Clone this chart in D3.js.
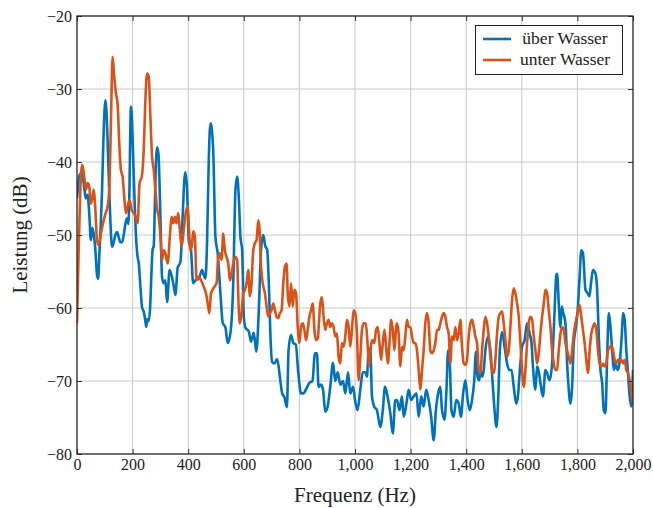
<!DOCTYPE html>
<html>
<head>
    <meta charset="utf-8">
    <title>Leistung über Frequenz</title>
    <script type="text/javascript" src="https://d3js.org/d3.v7.min.js"></script>
    <style>
        body { margin: 0; background: #fff; }
        svg text { font-family: "Liberation Serif", "Times New Roman", serif; fill: #222; }
    </style>
</head>
<body>
    <div id="div-svg"></div>

    <script type="text/javascript">
        // values
        let seriesNames = ["über Wasser", "unter Wasser"];
        let seriesColors = ["#0072bd", "#d95319"];

        let xTicks = [0, 200, 400, 600, 800, 1000, 1200, 1400, 1600, 1800, 2000];
        let yTicks = [-80, -70, -60, -50, -40, -30, -20];

        let freqAbove = [0, 8, 14, 20, 26, 32, 38, 44, 50, 55, 60, 66, 72, 76, 80, 85, 90, 95, 99, 102, 106, 110, 115, 120, 126, 132, 138, 144, 150, 156, 162, 168, 174, 180, 185, 189, 192, 194, 197, 201, 206, 212, 218, 222, 228, 234, 240, 245, 249, 253, 258, 263, 268, 272, 276, 280, 284, 288, 293, 300, 306, 312, 318, 324, 333, 342, 348, 354, 362, 372, 381, 386, 390, 396, 402, 410, 418, 426, 438, 450, 456, 462, 468, 474, 478, 482, 486, 490, 498, 506, 516, 524, 534, 542, 552, 562, 570, 576, 582, 588, 594, 600, 606, 618, 626, 636, 645, 654, 662, 670, 677, 684, 690, 696, 702, 710, 720, 730, 738, 746, 755, 761, 770, 778, 787, 796, 806, 815, 823, 835, 847, 856, 863, 869, 878, 885, 893, 901, 911, 921, 929, 938, 947, 957, 965, 975, 983, 993, 1000, 1009, 1019, 1028, 1037, 1043, 1049, 1055, 1061, 1069, 1079, 1091, 1100, 1108, 1117, 1127, 1136, 1145, 1151, 1160, 1169, 1175, 1185, 1193, 1202, 1211, 1221, 1229, 1238, 1247, 1256, 1265, 1274, 1283, 1291, 1299, 1307, 1313, 1322, 1329, 1335, 1341, 1347, 1355, 1364, 1373, 1381, 1389, 1397, 1405, 1413, 1421, 1429, 1435, 1441, 1447, 1451, 1457, 1463, 1469, 1478, 1487, 1496, 1502, 1509, 1515, 1521, 1529, 1538, 1547, 1555, 1563, 1571, 1580, 1586, 1593, 1601, 1610, 1619, 1628, 1635, 1641, 1649, 1655, 1661, 1669, 1676, 1685, 1691, 1700, 1709, 1718, 1724, 1727, 1733, 1739, 1744, 1749, 1753, 1758, 1763, 1769, 1775, 1781, 1787, 1793, 1801, 1808, 1814, 1820, 1829, 1837, 1843, 1849, 1856, 1865, 1871, 1877, 1883, 1889, 1895, 1901, 1907, 1913, 1919, 1925, 1931, 1937, 1945, 1953, 1960, 1964, 1970, 1976, 1982, 1988, 1994, 2000];
        let levelAbove = [-45, -42, -41.5, -41.8, -43.5, -45, -44.5, -47, -50.7, -49, -49.8, -52, -55.5, -56, -53, -49, -44, -37, -33, -31.5, -33, -37, -43, -48, -51.6, -51, -50, -49.6, -50.3, -51, -51, -50, -48.5, -47.7, -48.5, -43, -35, -32.4, -33.5, -38, -44, -50, -53, -53.8, -57, -59.9, -60.5, -61.5, -62.6, -61.5, -61.8, -60, -55, -52, -51.5, -46, -40, -38, -38.9, -47.5, -55.8, -56.6, -56.2, -59.2, -54.8, -55.8, -57, -58.2, -54.5, -53.7, -46.6, -42.5, -41.4, -43.8, -50.7, -52, -56.6, -56.2, -56, -54.8, -55.5, -56, -50.7, -39.7, -35.5, -34.7, -36, -38.4, -50.3, -52.5, -58, -62, -62.7, -64.8, -63.4, -56.6, -43.8, -42, -44.8, -50.3, -52, -61.2, -62.7, -63.2, -64.6, -63.4, -66, -60.3, -52, -50, -51.5, -52, -56.6, -64, -67.4, -67.6, -67, -69.5, -71.7, -72.2, -73.6, -65.8, -63.7, -64.8, -65, -68.9, -71.7, -71.7, -71.2, -70.3, -70, -66.2, -66.2, -70.8, -70.5, -71.2, -74.2, -73.6, -70.8, -67.5, -70, -68.8, -70.5, -70, -71.7, -68.8, -71.7, -70.8, -72.6, -74, -71.2, -68.8, -68.8, -69.4, -65.8, -65.5, -72.1, -73.5, -74, -76.3, -74, -70.8, -72.1, -74.4, -77.2, -72.6, -72.6, -74, -72.1, -74.9, -73.1, -71.2, -72.6, -72.1, -71.7, -74.9, -72.1, -73.5, -71.2, -72.6, -74.9, -78.1, -74, -71.7, -70.8, -74, -75.3, -71.2, -65.8, -67.6, -74, -74.9, -72.6, -73.1, -74.9, -71.7, -69.9, -72.6, -74, -72.6, -69.9, -66, -69.4, -69.9, -68.5, -69.4, -68.5, -65.8, -63.9, -65.8, -70.8, -74, -76.3, -72.6, -65.8, -63.3, -65.3, -67.6, -68.5, -68.5, -70.8, -73.1, -72.1, -68.5, -65.3, -64.4, -62.1, -63.5, -64.8, -68.5, -71.2, -68, -68.7, -70.8, -72.1, -68.5, -68.9, -69.9, -67.6, -60.3, -55.5, -55.3, -59.4, -62.6, -59.8, -60.7, -61.2, -62.6, -67.6, -71.2, -73.1, -70.8, -64.8, -63, -60.3, -55.7, -52.1, -52.5, -57.5, -58, -58.4, -56.6, -54.8, -55.3, -57.5, -63.9, -68.5, -70.3, -74, -74.4, -66.7, -60.7, -62.6, -65.8, -68.5, -67.6, -68.5, -67.1, -63.5, -60.7, -61.6, -65.8, -68.9, -72.1, -73.5, -68.5];

        let freqBelow = [0, 6, 12, 19, 26, 32, 38, 44, 50, 56, 60, 66, 72, 78, 86, 96, 103, 110, 116, 122, 128, 134, 140, 146, 152, 158, 164, 170, 176, 182, 189, 197, 204, 211, 218, 225, 233, 240, 246, 252, 258, 264, 270, 276, 282, 288, 294, 300, 306, 312, 318, 326, 334, 340, 346, 352, 358, 364, 370, 376, 384, 391, 398, 403, 408, 414, 418, 424, 430, 438, 446, 456, 464, 472, 476, 482, 488, 494, 502, 508, 514, 520, 526, 532, 538, 544, 550, 554, 562, 569, 576, 581, 586, 592, 598, 604, 610, 616, 622, 628, 634, 640, 646, 652, 656, 662, 668, 676, 682, 688, 694, 700, 706, 712, 718, 724, 730, 736, 742, 748, 754, 758, 764, 770, 776, 782, 788, 794, 800, 806, 812, 818, 824, 830, 836, 842, 848, 854, 860, 866, 871, 875, 881, 887, 893, 899, 905, 911, 917, 923, 929, 935, 941, 947, 953, 959, 965, 971, 977, 983, 989, 995, 1001, 1007, 1013, 1019, 1025, 1031, 1039, 1045, 1051, 1057, 1063, 1069, 1076, 1082, 1088, 1094, 1100, 1106, 1112, 1118, 1124, 1130, 1136, 1142, 1148, 1151, 1157, 1163, 1169, 1175, 1181, 1187, 1193, 1199, 1205, 1211, 1217, 1223, 1229, 1235, 1241, 1247, 1253, 1259, 1265, 1271, 1277, 1283, 1289, 1295, 1301, 1307, 1313, 1319, 1325, 1331, 1337, 1343, 1349, 1355, 1361, 1367, 1373, 1379, 1385, 1391, 1397, 1403, 1409, 1415, 1421, 1427, 1433, 1439, 1445, 1451, 1457, 1463, 1469, 1475, 1481, 1487, 1493, 1499, 1505, 1511, 1517, 1523, 1529, 1535, 1541, 1547, 1553, 1559, 1565, 1571, 1577, 1583, 1589, 1595, 1601, 1607, 1613, 1619, 1625, 1631, 1637, 1643, 1649, 1655, 1661, 1667, 1673, 1679, 1685, 1691, 1697, 1703, 1709, 1715, 1721, 1727, 1733, 1739, 1745, 1751, 1757, 1763, 1769, 1775, 1781, 1787, 1793, 1801, 1808, 1814, 1820, 1826, 1832, 1838, 1844, 1850, 1856, 1862, 1868, 1874, 1880, 1886, 1892, 1898, 1904, 1910, 1916, 1922, 1928, 1934, 1940, 1946, 1952, 1958, 1964, 1970, 1976, 1982, 1988, 1994, 2000];
        let levelBelow = [-62.1, -52, -43.8, -40.4, -42, -43.8, -42.9, -43.4, -45.7, -44.8, -43.8, -46.6, -50.7, -51.4, -49.8, -48, -47, -46.1, -43.8, -34.7, -25.6, -28.3, -30.6, -32, -37.4, -41.1, -42, -44.8, -47, -46.1, -45.2, -46.6, -47, -47.5, -48.4, -42.9, -42, -38.4, -31.5, -27.9, -28.3, -33.8, -39.3, -41.1, -43.8, -46.4, -47.5, -50.2, -53.4, -52.1, -52.5, -53.9, -50.2, -47.5, -48.4, -47.5, -48.4, -47, -49.3, -51.6, -49.3, -47, -46.1, -49.3, -52.1, -51.1, -49.5, -50.2, -56.2, -55.7, -56.2, -57.1, -58, -59.8, -60.7, -58, -57.5, -57.1, -56.6, -53, -52.5, -53.4, -49.8, -52.1, -53, -53.9, -56.2, -55.7, -53.9, -53, -53.4, -59.4, -62.1, -60.7, -58, -57.5, -56.6, -54.8, -58.4, -56.6, -52.1, -51.1, -50.7, -48, -48.9, -54.3, -56.6, -58, -59.8, -61.2, -60.7, -60.3, -59.4, -60.3, -61.2, -61.4, -60.7, -60.3, -56.6, -54.3, -53.9, -58, -59.8, -56.6, -59.8, -57.5, -58, -62.6, -64.8, -62.6, -62.1, -63, -64.4, -63, -61.2, -60.3, -59.4, -63, -64.4, -64.2, -61.6, -59.4, -58.5, -61.2, -63, -62.1, -61.6, -62.6, -62.1, -62.6, -63.9, -63.5, -66.7, -67.6, -64.8, -65.3, -63.9, -61.6, -62.6, -65.3, -63, -60.3, -60.7, -63.5, -69.9, -66.7, -63, -62.1, -62.1, -64.8, -68, -65.3, -64.4, -64.8, -63, -62.6, -64.8, -67.1, -64.8, -63, -65.3, -67.6, -64.8, -61.6, -63, -65.8, -62.6, -62.1, -63.5, -68, -65.3, -65.8, -63.9, -61.6, -62.6, -62.6, -63.9, -64.8, -64.8, -65.8, -68.5, -71.2, -68.5, -65.8, -62.1, -60.7, -62.1, -65.8, -66.2, -65.8, -64.8, -63, -63, -62.1, -61.2, -60.7, -61.2, -62.6, -63.5, -67.6, -63.9, -64.4, -62.6, -64.4, -63.5, -61.6, -65.3, -67.6, -67.8, -67.1, -63.9, -62.1, -61.6, -62.6, -63.9, -64.8, -68.5, -68.9, -65.8, -63, -61.2, -62.1, -63.9, -66.7, -68.5, -68.9, -67.1, -63.5, -61.2, -60.7, -60.5, -62.1, -64.4, -66.7, -65.8, -62.6, -58.9, -57.3, -58, -59.4, -61.2, -64.8, -68.5, -70.8, -68.5, -64.8, -62.1, -61.2, -61.6, -63.9, -65.8, -67.6, -66.2, -63.5, -61.2, -59.4, -57.5, -58, -60.3, -62.6, -65.8, -67.6, -68.5, -68.5, -65.8, -63.5, -62.6, -63, -64.8, -65.8, -66.7, -67.6, -65.8, -63.5, -62.1, -60.7, -59.6, -61.2, -63, -64.8, -67.1, -68.9, -65.8, -63.5, -62.6, -62.1, -63, -65.8, -67.6, -68, -67.6, -68, -67.6, -65.8, -65.5, -65.1, -65.8, -67.1, -67.6, -67.1, -67.3, -67.1, -67.6, -67.1, -68.5, -68.9, -69.9, -71.7, -73.1];

        // svg size and plot box
        let width = 653;
        let height = 508;
        let plotLeft = 77, plotRight = 633, plotTop = 16, plotBottom = 454;

        let svg = d3.select("#div-svg")
            .append("svg")
            .attr("id", "svg-1")
            .attr("width", width)
            .attr("height", height);

        let xScale = d3.scaleLinear()
            .domain([0, 2000])
            .range([plotLeft, plotRight]);

        let yScale = d3.scaleLinear()
            .domain([-80, -20])
            .range([plotBottom, plotTop]);

        // grid lines
        svg.append("g")
            .selectAll("line")
            .data(xTicks)
            .enter()
            .append("line")
            .attr("x1", function (d) { return xScale(d); })
            .attr("x2", function (d) { return xScale(d); })
            .attr("y1", plotTop)
            .attr("y2", plotBottom)
            .attr("stroke", "#c8c8c8")
            .attr("stroke-width", 1);

        svg.append("g")
            .selectAll("line")
            .data(yTicks)
            .enter()
            .append("line")
            .attr("x1", plotLeft)
            .attr("x2", plotRight)
            .attr("y1", function (d) { return yScale(d); })
            .attr("y2", function (d) { return yScale(d); })
            .attr("stroke", "#c8c8c8")
            .attr("stroke-width", 1);

        // the two curves
        svg.append("clipPath")
            .attr("id", "clip")
            .append("rect")
            .attr("x", plotLeft)
            .attr("y", plotTop)
            .attr("width", plotRight - plotLeft)
            .attr("height", plotBottom - plotTop);

        let series = [
            { freq: freqAbove, level: levelAbove },
            { freq: freqBelow, level: levelBelow }
        ];

        let line = d3.line()
            .x(function (d) { return xScale(d[0]); })
            .y(function (d) { return yScale(d[1]); })
            .curve(d3.curveMonotoneX);

        // orange is drawn after blue, like the reference
        series.forEach(function (s, i) {
            let points = s.freq.map(function (f, j) { return [f, s.level[j]]; });
            svg.append("path")
                .datum(points)
                .attr("clip-path", "url(#clip)")
                .attr("fill", "none")
                .attr("stroke", seriesColors[i])
                .attr("stroke-width", 2.6)
                .attr("stroke-linejoin", "round")
                .attr("d", line);
        });

        // axes, ticks point inwards on all four sides
        let fmtX = d3.format(",");
        let fmtY = d3.format("d");

        let xAxis = svg.append("g")
            .attr("transform", "translate(0," + plotBottom + ")")
            .call(d3.axisBottom(xScale).tickValues(xTicks).tickSize(-5).tickPadding(8).tickFormat(fmtX));
        xAxis.selectAll("text")
            .style("font-size", "16px")
            .style("font-family", "Liberation Serif, serif")
            .attr("y", 5)
            .attr("dy", "0.71em");

        let yAxis = svg.append("g")
            .attr("transform", "translate(" + plotLeft + ",0)")
            .call(d3.axisLeft(yScale).tickValues(yTicks).tickSize(-5).tickPadding(6).tickFormat(fmtY));
        yAxis.selectAll("text")
            .style("font-size", "16px")
            .style("font-family", "Liberation Serif, serif")
            .attr("x", -5);

        svg.append("g")
            .attr("transform", "translate(0," + plotTop + ")")
            .call(d3.axisTop(xScale).tickValues(xTicks).tickSize(-5).tickFormat(""));

        svg.append("g")
            .attr("transform", "translate(" + plotRight + ",0)")
            .call(d3.axisRight(yScale).tickValues(yTicks).tickSize(-5).tickFormat(""));

        svg.selectAll(".domain").remove();
        svg.selectAll(".tick line").attr("stroke", "#333").attr("stroke-width", 1);

        svg.append("rect")
            .attr("x", plotLeft)
            .attr("y", plotTop)
            .attr("width", plotRight - plotLeft)
            .attr("height", plotBottom - plotTop)
            .attr("fill", "none")
            .attr("stroke", "#222")
            .attr("stroke-width", 1.2);

        // axis labels
        svg.append("text")
            .attr("x", (plotLeft + plotRight) / 2)
            .attr("y", 502)
            .attr("font-size", 21)
            .style("text-anchor", "middle")
            .text("Frequenz (Hz)");

        svg.append("text")
            .attr("transform", "rotate(-90)")
            .attr("x", -(plotTop + plotBottom) / 2)
            .attr("y", 27)
            .attr("font-size", 21)
            .style("text-anchor", "middle")
            .text("Leistung (dB)");

        // legend
        let legend = svg.append("g");
        legend.append("rect")
            .attr("x", 475.5)
            .attr("y", 25.5)
            .attr("width", 147)
            .attr("height", 49)
            .attr("fill", "white")
            .attr("stroke", "#222")
            .attr("stroke-width", 1);

        seriesNames.forEach(function (name, i) {
            let yy = 39 + i * 21;
            legend.append("line")
                .attr("x1", 483)
                .attr("x2", 511)
                .attr("y1", yy)
                .attr("y2", yy)
                .attr("stroke", seriesColors[i])
                .attr("stroke-width", 2.6);
            legend.append("text")
                .attr("x", 565)
                .attr("y", yy + 5)
                .attr("font-size", 17.5)
                .style("text-anchor", "middle")
                .text(name);
        });
    </script>
</body>
</html>
